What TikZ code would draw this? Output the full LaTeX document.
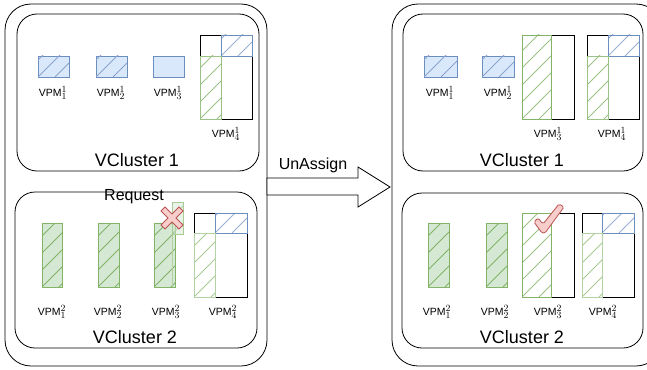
\documentclass[tikz,border=0pt]{standalone}
\usepackage{fix-cm}
\usepackage{fontspec}
\setmainfont{Liberation Sans}
\usetikzlibrary{positioning,calc}
\DeclareMathSizes{10.5}{10.5}{9.5}{7}
\definecolor{bluefill}{HTML}{DAE8FC}
\definecolor{blueline}{HTML}{6C8EBF}
\definecolor{greenfill}{HTML}{D5E8D4}
\definecolor{greenline}{HTML}{82B366}
\definecolor{redfill}{HTML}{F8CECC}
\definecolor{redline}{HTML}{B85450}
\tikzset{
	outerbox/.style = {draw, line width=0.8pt, rounded corners=26pt},
	clusterbox/.style = {draw, line width=0.8pt, rounded corners=20pt},
	bluevm/.style = {draw=blueline, fill=bluefill, line width=0.8pt},
	greenvm/.style = {draw=greenline, fill=greenfill, line width=0.8pt},
	greenpart/.style = {draw=greenline!80, line width=0.8pt},
	bluepart/.style = {draw=blueline, line width=0.8pt},
	pmbox/.style = {draw, line width=0.8pt},
	vpmlabel/.style = {inner sep=0pt, font=\fontsize{10.5}{12}\selectfont},
	title/.style = {inner sep=0pt, font=\fontsize{18}{20}\selectfont},
	note/.style = {inner sep=0pt, font=\fontsize{16}{18}\selectfont}
}
% diagonal hatching inside a box: x1 y1 x2 y2 colour
\newcommand{\hatchbox}[5]{%
	\begin{scope}
		\clip (#1,#2) rectangle (#3,#4);
		\foreach \k in {-102,-85,...,68}
			\draw[#5, line width=1pt] ({#1+\k},#4) -- ++(130,-130);
	\end{scope}}

\begin{document}
\begin{tikzpicture}[x=1pt,y=-1pt]
\useasboundingbox (0,0) rectangle (647,369);

% ---- left: before ----
\draw[outerbox] (5,4) rectangle (267,366);
\draw[clusterbox] (17,14) rectangle (259,171);
\draw[clusterbox] (15,192) rectangle (257,348);

% VCluster 1
\draw[bluevm] (38,56) rectangle (69,77);  \hatchbox{38}{56}{69}{77}{blueline!80}
\draw[bluevm] (96,56) rectangle (127,77); \hatchbox{96}{56}{127}{77}{blueline!80}
\draw[bluevm] (153,56) rectangle (184,77);
\hatchbox{221}{35}{252}{56}{blueline!70}
\hatchbox{200}{56}{221}{119}{greenline!80}
\draw[pmbox] (200,35) rectangle (252,119);
\draw[bluepart] (221,35) rectangle (252,56);
\draw[greenpart] (200,56) rectangle (221,119);
\node[vpmlabel] (la11) at (53,93) {VPM$^1_1$};
\node[vpmlabel] (la12) at (111,93) {VPM$^1_2$};
\node[vpmlabel] (la13) at (168,93) {VPM$^1_3$};
\node[vpmlabel] (la14) at (226,134) {VPM$^1_4$};
\node[title] (lvc1) at (137,160) {VCluster 1};

% VCluster 2
\draw[greenvm] (42,223) rectangle (62,287);   \hatchbox{42}{223}{62}{287}{greenline}
\draw[greenvm] (98,223) rectangle (119,287);  \hatchbox{98}{223}{119}{287}{greenline}
\draw[greenvm] (154,223) rectangle (175,287); \hatchbox{154}{223}{175}{287}{greenline}
\draw[greenline!60, line width=0.8pt] (172,223) -- (172,287);
\fill[greenfill, opacity=0.5] (172,202) rectangle (183,234);
\hatchbox{172}{202}{183}{234}{greenline!60}
\draw[greenline!70, line width=0.8pt] (172,202) rectangle (183,234);
\hatchbox{215}{213}{247}{233}{blueline!70}
\hatchbox{194}{233}{215}{297}{greenline!70}
\draw[pmbox] (194,213) rectangle (247,297);
\draw[bluepart] (215,213) rectangle (247,233);
\draw[greenpart, draw=greenline!60] (194,233) rectangle (215,297);
\filldraw[fill=redfill, draw=redline, line width=0.8pt, shift={(172,218)}]
	(-11,-7) -- (-7,-11) -- (0,-4) -- (7,-11) -- (11,-7) -- (4,0) -- (11,7)
	-- (7,11) -- (0,4) -- (-7,11) -- (-11,7) -- (-4,0) -- cycle;
\node[note] (req) at (134,197) {Request};
\node[vpmlabel] (la21) at (52,312) {VPM$^2_1$};
\node[vpmlabel] (la22) at (108,312) {VPM$^2_2$};
\node[vpmlabel] (la23) at (166,312) {VPM$^2_3$};
\node[vpmlabel] (la24) at (223,312) {VPM$^2_4$};
\node[title] (lvc2) at (135,337) {VCluster 2};

% ---- arrow ----
\draw[line width=0.8pt, fill=white] (267,178) -- (358,178) -- (358,167) -- (390,187)
	-- (358,207) -- (358,195) -- (267,195) -- cycle;
\node[note] (unassign) at (313,165) {UnAssign};

% ---- right: after ----
\draw[outerbox] (392,4) rectangle (662,366);
\draw[clusterbox] (403,14) rectangle (643,171);
\draw[clusterbox] (402,193) rectangle (643,348);

% VCluster 1
\draw[bluevm] (424,56) rectangle (457,77); \hatchbox{424}{56}{457}{77}{blueline!80}
\draw[bluevm] (482,56) rectangle (514,77); \hatchbox{482}{56}{514}{77}{blueline!80}
\hatchbox{522}{35}{551}{119}{greenline!80}
\draw[pmbox] (522,35) rectangle (574,119);
\draw[greenpart, draw=greenline] (522,35) rectangle (551,119);
\hatchbox{608}{35}{639}{56}{blueline!70}
\hatchbox{587}{56}{608}{119}{greenline!80}
\draw[pmbox] (587,35) rectangle (639,119);
\draw[bluepart] (608,35) rectangle (639,56);
\draw[greenpart] (587,56) rectangle (608,119);
\node[vpmlabel] (ra11) at (440,93) {VPM$^1_1$};
\node[vpmlabel] (ra12) at (498,93) {VPM$^1_2$};
\node[vpmlabel] (ra13) at (548,134) {VPM$^1_3$};
\node[vpmlabel] (ra14) at (612,134) {VPM$^1_4$};
\node[title] (rvc1) at (522,160) {VCluster 1};

% VCluster 2
\draw[greenvm] (428,223) rectangle (449,287); \hatchbox{428}{223}{449}{287}{greenline}
\draw[greenvm] (486,223) rectangle (507,287); \hatchbox{486}{223}{507}{287}{greenline}
\hatchbox{522}{213}{551}{297}{greenline!80}
\draw[pmbox] (522,213) rectangle (574,297);
\draw[greenpart, draw=greenline] (522,213) rectangle (551,297);
\hatchbox{602}{213}{634}{233}{blueline!70}
\hatchbox{582}{233}{602}{297}{greenline!70}
\draw[pmbox] (582,213) rectangle (634,297);
\draw[bluepart] (602,213) rectangle (634,233);
\draw[greenpart, draw=greenline!60] (582,233) rectangle (602,297);
\filldraw[fill=redfill, draw=redline, line width=0.8pt, rounded corners=1.5pt]
	(534,222) -- (538,218) -- (543,224) -- (559,204) -- (564,207) -- (545,233) -- (542,233) -- cycle;
\node[vpmlabel] (ra21) at (437,312) {VPM$^2_1$};
\node[vpmlabel] (ra22) at (495,312) {VPM$^2_2$};
\node[vpmlabel] (ra23) at (548,312) {VPM$^2_3$};
\node[vpmlabel] (ra24) at (603,312) {VPM$^2_4$};
\node[title] (rvc2) at (522,337) {VCluster 2};
\end{tikzpicture}
\end{document}
